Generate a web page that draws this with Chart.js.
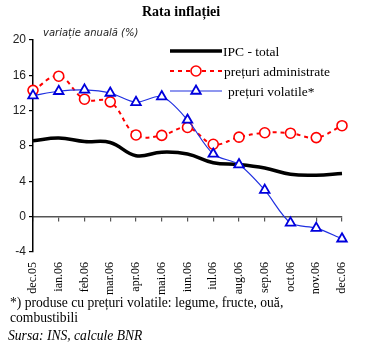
<!DOCTYPE html>
<html><head><meta charset="utf-8">
<script src="https://cdn.jsdelivr.net/npm/chart.js@4.4.1/dist/chart.umd.min.js"></script>
<style>
html,body{margin:0;padding:0;background:#fff;}
#wrap{position:relative;width:375px;height:347px;overflow:hidden;background:#fff;}
#c{position:absolute;left:0;top:0;}
.t{position:absolute;white-space:nowrap;color:#000;}
</style></head><body>
<div id="wrap">
<canvas id="c" width="375" height="300" style="width:375px;height:300px;"></canvas>
<div class="t" style="left:142px;top:4px;font:bold 14px 'Liberation Serif';line-height:16px;">Rata inflației</div>
<div class="t" style="left:43px;top:27px;font:italic 10px 'DejaVu Sans';line-height:12px;color:#222;">variație anuală (%)</div>
<div class="t" style="left:10px;top:295px;font:13.6px 'Liberation Serif';line-height:15px;">*) produse cu prețuri volatile: legume, fructe, ouă,</div>
<div class="t" style="left:10px;top:310px;font:13.6px 'Liberation Serif';line-height:15px;">combustibili</div>
<div class="t" style="left:8px;top:328px;font:italic 13.6px 'Liberation Serif';line-height:15px;">Sursa: INS, calcule BNR</div>
</div>
<script>
const categories = ['dec.05','ian.06','feb.06','mar.06','apr.06','mai.06','iun.06','iul.06','aug.06','sep.06','oct.06','nov.06','dec.06'];
const ipcTotal = [8.6, 8.9, 8.5, 8.4, 6.9, 7.3, 7.1, 6.1, 5.9, 5.5, 4.8, 4.7, 4.9];
const adminPrices = [14.3, 15.9, 13.3, 13.0, 9.25, 9.2, 10.1, 8.2, 9.0, 9.5, 9.45, 8.95, 10.3];
const volatilePrices = [13.7, 14.2, 14.35, 14.0, 12.95, 13.6, 10.95, 7.1, 5.9, 3.0, -0.7, -1.3, -2.5];
const seriesLabels = ['IPC - total', 'prețuri administrate', 'prețuri volatile*'];
const yMin = -4, yMax = 20, yStep = 4;

const legendPlugin = {
  id: 'customLegend',
  afterDraw(chart) {
    const ctx = chart.ctx;
    const items = [{y: 51, tx: 223}, {y: 71, tx: 224}, {y: 91, tx: 228}];
    chart.data.datasets.forEach((ds, i) => {
      const it = items[i];
      ctx.save();
      ctx.strokeStyle = ds.borderColor;
      ctx.lineWidth = ds.borderWidth;
      ctx.setLineDash(ds.borderDash || []);
      ctx.beginPath(); ctx.moveTo(170, it.y); ctx.lineTo(222, it.y); ctx.stroke();
      ctx.setLineDash([]);
      if (ds.pointRadius > 0) {
        ctx.fillStyle = ds.pointBackgroundColor;
        ctx.strokeStyle = ds.pointBorderColor;
        ctx.lineWidth = ds.pointBorderWidth;
        Chart.helpers.drawPoint(ctx, {pointStyle: ds.pointStyle, radius: ds.pointRadius, borderWidth: ds.pointBorderWidth, rotation: 0}, 196, it.y);
      }
      ctx.fillStyle = '#000';
      ctx.font = '13.5px "Liberation Serif"';
      ctx.textBaseline = 'middle';
      ctx.textAlign = 'left';
      ctx.fillText(ds.label, it.tx, it.y + 1);
      ctx.restore();
    });
  }
};

new Chart(document.getElementById('c'), {
  type: 'line',
  data: {
    labels: categories,
    datasets: [
      {label: seriesLabels[0], data: ipcTotal, borderColor: '#000', borderWidth: 3.5, pointRadius: 0, tension: 0.4, order: 3, clip: false},
      {label: seriesLabels[1], data: adminPrices, borderColor: '#ff0000', borderWidth: 2, borderDash: [4, 4], tension: 0.4,
       pointStyle: 'circle', pointRadius: 5, pointBorderWidth: 1.6, pointBorderColor: '#ff0000', pointBackgroundColor: '#fff', order: 2, clip: false},
      {label: seriesLabels[2], data: volatilePrices, borderColor: '#2030e0', borderWidth: 1.2, tension: 0.3,
       pointStyle: 'triangle', pointRadius: 5.5, pointBorderWidth: 1.8, pointBorderColor: '#0000dd', pointBackgroundColor: '#fff', order: 1, clip: false}
    ]
  },
  options: {
    responsive: false,
    animation: false,
    devicePixelRatio: 1,
    layout: {padding: {top: 40, right: 33, left: 0, bottom: 0}},
    plugins: {legend: {display: false}, title: {display: false}, tooltip: {enabled: false}},
    scales: {
      x: {
        type: 'category',
        position: {y: 0},
        offset: false,
        ticks: {display: false},
        grid: {drawOnChartArea: false, drawTicks: true, tickLength: 4, color: '#555', lineWidth: 1.2},
        border: {display: true, color: '#555', width: 1.5}
      },
      x2: {
        type: 'category',
        position: 'bottom',
        labels: categories,
        offset: false,
        grid: {display: false, drawTicks: false},
        border: {display: false},
        ticks: {autoSkip: false, minRotation: 90, maxRotation: 90, padding: 10, color: '#000', font: {family: 'Liberation Serif', size: 12}},
        afterFit(s) { s.height = 48; }
      },
      y: {
        min: yMin, max: yMax,
        ticks: {stepSize: yStep, padding: 3, color: '#222', font: {family: 'Liberation Sans', size: 12}},
        grid: {drawOnChartArea: false, drawTicks: true, tickLength: 4, color: '#000', lineWidth: 1.2},
        border: {display: true, color: '#000', width: 1.5},
        afterFit(s) { s.width = 33; }
      }
    }
  },
  plugins: [legendPlugin]
});
</script>
</body></html>
